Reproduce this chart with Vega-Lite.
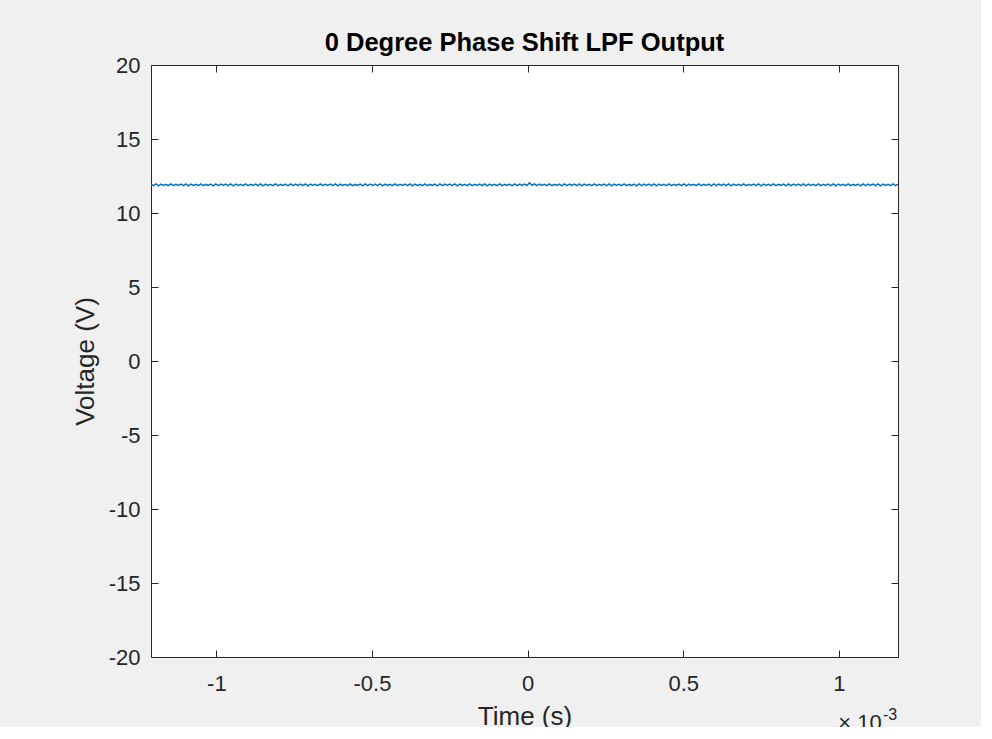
{
  "$schema": "https://vega.github.io/schema/vega-lite/v6.json",
  "autosize": {"type": "none"},
  "width": 747,
  "height": 592,
  "padding": {"left": 151, "top": 65, "right": 83, "bottom": 70},
  "background": "#f0f0f0",
  "title": {"text": "0 Degree Phase Shift LPF Output", "fontSize": 25.5, "fontWeight": "bold", "font": "Liberation Sans", "color": "#000000", "offset": -2},
  "config": {
    "view": {"fill": "white", "stroke": "#262626", "strokeWidth": 1},
    "axis": {
      "domain": false,
      "grid": false,
      "tickColor": "#262626",
      "tickSize": -7,
      "tickWidth": 1,
      "labelFont": "Liberation Sans",
      "labelFontSize": 22,
      "labelColor": "#262626",
      "titleFont": "Liberation Sans",
      "titleFontSize": 26,
      "titleFontWeight": "normal",
      "titleColor": "#262626"
    }
  },
  "data": {"values": [
    {"t":-1210,"v":11.95},{"t":-1202,"v":11.85},{"t":-1194,"v":11.96},{"t":-1186,"v":11.84},{"t":-1178,"v":11.95},{"t":-1170,"v":11.86},{"t":-1162,"v":11.94},{"t":-1154,"v":11.85},{"t":-1146,"v":11.96},{"t":-1138,"v":11.85},
    {"t":-1130,"v":11.94},{"t":-1122,"v":11.86},{"t":-1114,"v":11.95},{"t":-1106,"v":11.85},{"t":-1098,"v":11.97},{"t":-1090,"v":11.84},{"t":-1082,"v":11.95},{"t":-1074,"v":11.86},{"t":-1066,"v":11.94},{"t":-1058,"v":11.85},
    {"t":-1050,"v":11.96},{"t":-1042,"v":11.85},{"t":-1034,"v":11.93},{"t":-1026,"v":11.86},{"t":-1018,"v":11.95},{"t":-1010,"v":11.84},{"t":-1002,"v":11.96},{"t":-994,"v":11.85},{"t":-986,"v":11.95},{"t":-978,"v":11.87},
    {"t":-970,"v":11.95},{"t":-962,"v":11.85},{"t":-954,"v":11.96},{"t":-946,"v":11.84},{"t":-938,"v":11.95},{"t":-930,"v":11.86},{"t":-922,"v":11.94},{"t":-914,"v":11.85},{"t":-906,"v":11.96},{"t":-898,"v":11.85},
    {"t":-890,"v":11.94},{"t":-882,"v":11.86},{"t":-874,"v":11.95},{"t":-866,"v":11.85},{"t":-858,"v":11.97},{"t":-850,"v":11.84},{"t":-842,"v":11.95},{"t":-834,"v":11.86},{"t":-826,"v":11.94},{"t":-818,"v":11.85},
    {"t":-810,"v":11.96},{"t":-802,"v":11.85},{"t":-794,"v":11.93},{"t":-786,"v":11.86},{"t":-778,"v":11.95},{"t":-770,"v":11.84},{"t":-762,"v":11.96},{"t":-754,"v":11.85},{"t":-746,"v":11.95},{"t":-738,"v":11.87},
    {"t":-730,"v":11.95},{"t":-722,"v":11.85},{"t":-714,"v":11.96},{"t":-706,"v":11.84},{"t":-698,"v":11.95},{"t":-690,"v":11.86},{"t":-682,"v":11.94},{"t":-674,"v":11.85},{"t":-666,"v":11.96},{"t":-658,"v":11.85},
    {"t":-650,"v":11.94},{"t":-642,"v":11.86},{"t":-634,"v":11.95},{"t":-626,"v":11.85},{"t":-618,"v":11.97},{"t":-610,"v":11.84},{"t":-602,"v":11.95},{"t":-594,"v":11.86},{"t":-586,"v":11.94},{"t":-578,"v":11.85},
    {"t":-570,"v":11.96},{"t":-562,"v":11.85},{"t":-554,"v":11.93},{"t":-546,"v":11.86},{"t":-538,"v":11.95},{"t":-530,"v":11.84},{"t":-522,"v":11.96},{"t":-514,"v":11.85},{"t":-506,"v":11.95},{"t":-498,"v":11.87},
    {"t":-490,"v":11.95},{"t":-482,"v":11.85},{"t":-474,"v":11.96},{"t":-466,"v":11.84},{"t":-458,"v":11.95},{"t":-450,"v":11.86},{"t":-442,"v":11.94},{"t":-434,"v":11.85},{"t":-426,"v":11.96},{"t":-418,"v":11.85},
    {"t":-410,"v":11.94},{"t":-402,"v":11.86},{"t":-394,"v":11.95},{"t":-386,"v":11.85},{"t":-378,"v":11.97},{"t":-370,"v":11.84},{"t":-362,"v":11.95},{"t":-354,"v":11.86},{"t":-346,"v":11.94},{"t":-338,"v":11.85},
    {"t":-330,"v":11.96},{"t":-322,"v":11.85},{"t":-314,"v":11.93},{"t":-306,"v":11.86},{"t":-298,"v":11.95},{"t":-290,"v":11.84},{"t":-282,"v":11.96},{"t":-274,"v":11.85},{"t":-266,"v":11.95},{"t":-258,"v":11.87},
    {"t":-250,"v":11.95},{"t":-242,"v":11.85},{"t":-234,"v":11.96},{"t":-226,"v":11.84},{"t":-218,"v":11.95},{"t":-210,"v":11.86},{"t":-202,"v":11.94},{"t":-194,"v":11.85},{"t":-186,"v":11.96},{"t":-178,"v":11.85},
    {"t":-170,"v":11.94},{"t":-162,"v":11.86},{"t":-154,"v":11.95},{"t":-146,"v":11.85},{"t":-138,"v":11.97},{"t":-130,"v":11.84},{"t":-122,"v":11.95},{"t":-114,"v":11.86},{"t":-106,"v":11.94},{"t":-98,"v":11.85},
    {"t":-90,"v":11.96},{"t":-82,"v":11.85},{"t":-74,"v":11.93},{"t":-66,"v":11.86},{"t":-58,"v":11.95},{"t":-50,"v":11.84},{"t":-42,"v":11.96},{"t":-34,"v":11.85},{"t":-26,"v":11.95},{"t":-18,"v":11.86},
    {"t":-10,"v":11.95},{"t":-2,"v":11.86},{"t":6,"v":12.04},{"t":14,"v":11.87},{"t":22,"v":11.96},{"t":30,"v":11.85},{"t":38,"v":11.95},{"t":46,"v":11.86},{"t":54,"v":11.94},{"t":62,"v":11.85},
    {"t":70,"v":11.96},{"t":78,"v":11.85},{"t":86,"v":11.93},{"t":94,"v":11.86},{"t":102,"v":11.95},{"t":110,"v":11.84},{"t":118,"v":11.96},{"t":126,"v":11.85},{"t":134,"v":11.95},{"t":142,"v":11.87},
    {"t":150,"v":11.95},{"t":158,"v":11.85},{"t":166,"v":11.96},{"t":174,"v":11.84},{"t":182,"v":11.95},{"t":190,"v":11.86},{"t":198,"v":11.94},{"t":206,"v":11.85},{"t":214,"v":11.96},{"t":222,"v":11.85},
    {"t":230,"v":11.94},{"t":238,"v":11.86},{"t":246,"v":11.95},{"t":254,"v":11.85},{"t":262,"v":11.97},{"t":270,"v":11.84},{"t":278,"v":11.95},{"t":286,"v":11.86},{"t":294,"v":11.94},{"t":302,"v":11.85},
    {"t":310,"v":11.96},{"t":318,"v":11.85},{"t":326,"v":11.93},{"t":334,"v":11.86},{"t":342,"v":11.95},{"t":350,"v":11.84},{"t":358,"v":11.96},{"t":366,"v":11.85},{"t":374,"v":11.95},{"t":382,"v":11.87},
    {"t":390,"v":11.95},{"t":398,"v":11.85},{"t":406,"v":11.96},{"t":414,"v":11.84},{"t":422,"v":11.95},{"t":430,"v":11.86},{"t":438,"v":11.94},{"t":446,"v":11.85},{"t":454,"v":11.96},{"t":462,"v":11.85},
    {"t":470,"v":11.94},{"t":478,"v":11.86},{"t":486,"v":11.95},{"t":494,"v":11.85},{"t":502,"v":11.97},{"t":510,"v":11.84},{"t":518,"v":11.95},{"t":526,"v":11.86},{"t":534,"v":11.94},{"t":542,"v":11.85},
    {"t":550,"v":11.96},{"t":558,"v":11.85},{"t":566,"v":11.93},{"t":574,"v":11.86},{"t":582,"v":11.95},{"t":590,"v":11.84},{"t":598,"v":11.96},{"t":606,"v":11.85},{"t":614,"v":11.95},{"t":622,"v":11.87},
    {"t":630,"v":11.95},{"t":638,"v":11.85},{"t":646,"v":11.96},{"t":654,"v":11.84},{"t":662,"v":11.95},{"t":670,"v":11.86},{"t":678,"v":11.94},{"t":686,"v":11.85},{"t":694,"v":11.96},{"t":702,"v":11.85},
    {"t":710,"v":11.94},{"t":718,"v":11.86},{"t":726,"v":11.95},{"t":734,"v":11.85},{"t":742,"v":11.97},{"t":750,"v":11.84},{"t":758,"v":11.95},{"t":766,"v":11.86},{"t":774,"v":11.94},{"t":782,"v":11.85},
    {"t":790,"v":11.96},{"t":798,"v":11.85},{"t":806,"v":11.93},{"t":814,"v":11.86},{"t":822,"v":11.95},{"t":830,"v":11.84},{"t":838,"v":11.96},{"t":846,"v":11.85},{"t":854,"v":11.95},{"t":862,"v":11.87},
    {"t":870,"v":11.95},{"t":878,"v":11.85},{"t":886,"v":11.96},{"t":894,"v":11.84},{"t":902,"v":11.95},{"t":910,"v":11.86},{"t":918,"v":11.94},{"t":926,"v":11.85},{"t":934,"v":11.96},{"t":942,"v":11.85},
    {"t":950,"v":11.94},{"t":958,"v":11.86},{"t":966,"v":11.95},{"t":974,"v":11.85},{"t":982,"v":11.97},{"t":990,"v":11.84},{"t":998,"v":11.95},{"t":1006,"v":11.86},{"t":1014,"v":11.94},{"t":1022,"v":11.85},
    {"t":1030,"v":11.96},{"t":1038,"v":11.85},{"t":1046,"v":11.93},{"t":1054,"v":11.86},{"t":1062,"v":11.95},{"t":1070,"v":11.84},{"t":1078,"v":11.96},{"t":1086,"v":11.85},{"t":1094,"v":11.95},{"t":1102,"v":11.87},
    {"t":1110,"v":11.95},{"t":1118,"v":11.85},{"t":1126,"v":11.96},{"t":1134,"v":11.84},{"t":1142,"v":11.95},{"t":1150,"v":11.86},{"t":1158,"v":11.94},{"t":1166,"v":11.85},{"t":1174,"v":11.96},{"t":1182,"v":11.85},
    {"t":1190,"v":11.95}
  ]},
  "layer": [
    {
      "mark": {"type": "line", "color": "#0072BD", "strokeWidth": 1.5, "clip": true},
      "encoding": {
        "x": {"field": "t", "type": "quantitative",
          "scale": {"domain": [-1210, 1190], "nice": false, "zero": false},
          "axis": {"orient": "bottom", "values": [-1000, -500, 0, 500, 1000], "labelExpr": "'' + datum.value / 1000", "labelPadding": 23, "title": "Time (s)", "titlePadding": 9}},
        "y": {"field": "v", "type": "quantitative",
          "scale": {"domain": [-20, 20], "nice": false, "zero": false},
          "axis": {"orient": "left", "values": [-20, -15, -10, -5, 0, 5, 10, 15, 20], "labelExpr": "'' + datum.value", "labelPadding": 18, "title": "Voltage (V)", "titlePadding": 10}}
      }
    },
    {
      "mark": {"type": "line", "strokeOpacity": 0},
      "encoding": {
        "x": {"field": "t", "type": "quantitative",
          "axis": {"orient": "top", "values": [-1000, -500, 0, 500, 1000], "labels": false, "title": null}},
        "y": {"field": "v", "type": "quantitative",
          "axis": {"orient": "right", "values": [-20, -15, -10, -5, 0, 5, 10, 15, 20], "labels": false, "title": null}}
      }
    },
    {
      "mark": {"type": "line", "strokeOpacity": 0},
      "encoding": {
        "x": {"field": "t", "type": "quantitative",
          "axis": {"orient": "bottom", "values": [1066], "labelExpr": "'× 10'", "ticks": false, "tickSize": 0, "labelPadding": 0, "offset": 55, "title": null, "labelFlush": false, "labelOverlap": false}},
        "y": {"field": "v", "type": "quantitative", "axis": null}
      }
    },
    {
      "mark": {"type": "line", "strokeOpacity": 0},
      "encoding": {
        "x": {"field": "t", "type": "quantitative",
          "axis": {"orient": "bottom", "values": [1163], "labelExpr": "'-3'", "labelFontSize": 16, "ticks": false, "tickSize": 0, "labelPadding": 0, "offset": 49, "title": null, "labelFlush": false, "labelOverlap": false}},
        "y": {"field": "v", "type": "quantitative", "axis": null}
      }
    }
  ],
  "resolve": {"axis": {"x": "independent", "y": "independent"}}
}
